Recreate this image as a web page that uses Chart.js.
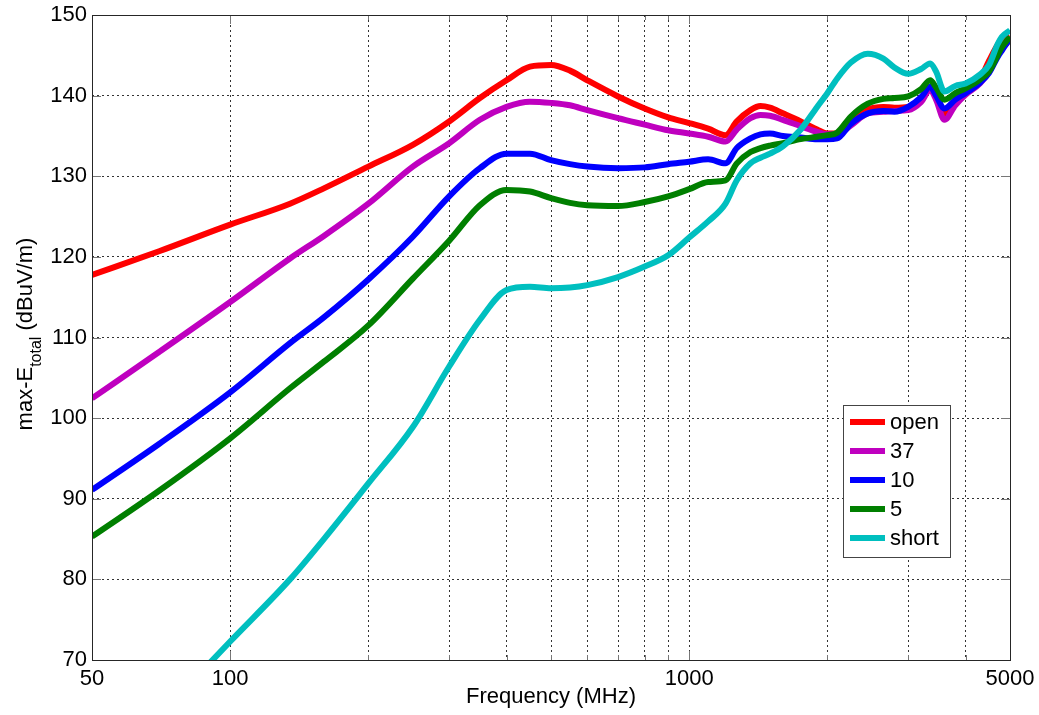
<!DOCTYPE html>
<html>
<head>
<meta charset="utf-8">
<script src="https://cdn.jsdelivr.net/npm/chart.js@4/dist/chart.umd.min.js"></script>
<style>
  html, body { margin: 0; padding: 0; background: #fff; }
  canvas { display: block; }
</style>
</head>
<body>
<canvas id="efield" width="1039" height="715"></canvas>
<script>
// frequencies in MHz, shared by every curve
const freqMHz = [50, 70, 100, 135, 160, 200, 250, 300, 350, 400, 450, 500, 550, 600, 700, 800, 900, 1000, 1100, 1200,
  1270, 1360, 1430, 1500, 1600, 1750, 1900, 2000, 2100, 2250, 2450, 2650, 2800, 3000, 3200, 3350, 3450, 3600,
  3800, 4000, 4300, 4500, 4700, 4800, 5000];

const openVals = [117.75, 120.7, 124.0, 126.6, 128.5, 131.2, 133.9, 136.8, 139.7, 141.9, 143.6, 143.8, 143.1, 141.9, 139.9,
  138.4, 137.3, 136.6, 135.9, 135.1, 136.8, 138.2, 138.7, 138.5, 137.8, 136.8, 135.8, 135.3, 135.3, 136.8, 138.3,
  138.6, 138.5, 138.6, 139.5, 141.0, 140.0, 137.8, 139.4, 140.5, 142.0, 144.3, 146.3, 146.9, 147.3];
const r37Vals = [102.45, 108.2, 114.4, 119.8, 122.6, 126.6, 131.2, 134.1, 137.0, 138.6, 139.25, 139.1, 138.8, 138.2, 137.2,
  136.4, 135.7, 135.3, 134.9, 134.3, 135.8, 137.2, 137.6, 137.5, 137.0, 136.2, 135.5, 135.2, 135.2, 136.3, 137.8,
  138.0, 138.1, 138.2, 139.2, 140.7, 139.5, 137.0, 138.8, 140.1, 141.5, 143.0, 145.0, 145.8, 146.9];
const r10Vals = [91.1, 96.8, 103.2, 109.3, 112.5, 117.2, 122.5, 127.5, 131.0, 132.8, 132.8, 132.0, 131.5, 131.2, 131.0,
  131.1, 131.5, 131.8, 132.1, 131.6, 133.5, 134.7, 135.2, 135.3, 135.0, 134.8, 134.6, 134.6, 134.7, 136.5, 137.8,
  138.1, 138.0, 138.6, 139.8, 141.1, 140.0, 138.4, 139.5, 140.3, 141.6, 142.8, 144.8, 145.6, 147.1];
const r5Vals = [85.3, 91.0, 97.5, 103.7, 107.0, 111.5, 117.3, 122.0, 126.4, 128.3, 128.1, 127.3, 126.7, 126.4, 126.3,
  126.8, 127.5, 128.4, 129.3, 129.5, 131.6, 133.0, 133.5, 133.8, 134.1, 134.6, 134.9, 135.1, 135.4, 137.4, 139.0,
  139.6, 139.7, 139.9, 140.8, 141.9, 141.0, 139.5, 140.3, 140.9, 142.0, 143.0, 145.0, 146.0, 147.3];
const shortVals = [54.0, 63.0, 72.3, 80.0, 85.0, 91.9, 98.9, 106.4, 112.2, 115.9, 116.3, 116.1, 116.2, 116.5, 117.5,
  118.8, 120.2, 122.4, 124.4, 126.6, 129.5, 131.6, 132.3, 132.8, 133.7, 135.8, 138.6, 140.3, 142.1, 144.1, 145.2,
  144.6, 143.5, 142.7, 143.3, 144.0, 143.0, 140.5, 141.2, 141.5, 142.6, 143.8, 146.4, 147.3, 148.1];

const seriesNames = ["open", "37", "10", "5", "short"];
const seriesColors = ["#ff0000", "#bf00bf", "#0000ff", "#007f00", "#00bfbf"];

const xGridFreqs = [50, 100, 200, 300, 400, 500, 600, 700, 800, 900, 1000, 2000, 3000, 4000, 5000];
const xLabelFreqs = [50, 100, 1000, 5000];
const yMin = 70, yMax = 150, yStep = 10;

const FONT = "'Liberation Sans', Arial, sans-serif";
const allVals = [openVals, r37Vals, r10Vals, r5Vals, shortVals];

const datasets = allVals.map((vals, i) => ({
  label: seriesNames[i],
  data: freqMHz.map((f, k) => ({ x: f, y: vals[k] })),
  borderColor: seriesColors[i],
  backgroundColor: seriesColors[i],
  borderWidth: 6,
  pointRadius: 0,
  cubicInterpolationMode: "monotone",
  fill: false,
  clip: 0,
  order: allVals.length - i, // later series drawn on top, like the original
}));

// keep the plot box exactly where the layout padding puts it
function noScalePadding(scale) {
  scale.paddingTop = 0;
  scale.paddingBottom = 0;
  scale.paddingLeft = 0;
  scale.paddingRight = 0;
}

const framePlugin = {
  id: "frame",
  afterDraw(chart) {
    const { ctx, chartArea: a, scales } = chart;
    const x = scales.x, y = scales.y;
    ctx.save();

    // inner ticks on all four sides
    ctx.strokeStyle = "#777";
    ctx.lineWidth = 1;
    ctx.beginPath();
    for (let v = yMin; v <= yMax; v += yStep) {
      const py = Math.round(y.getPixelForValue(v)) + 0.5;
      ctx.moveTo(a.left, py); ctx.lineTo(a.left + 9, py);
      ctx.moveTo(a.right, py); ctx.lineTo(a.right - 9, py);
    }
    xGridFreqs.forEach((f) => {
      const px = Math.round(x.getPixelForValue(f)) + 0.5;
      const len = xLabelFreqs.includes(f) ? 9 : 5;
      ctx.moveTo(px, a.bottom); ctx.lineTo(px, a.bottom - len);
      ctx.moveTo(px, a.top); ctx.lineTo(px, a.top + len);
    });
    ctx.stroke();

    // box
    ctx.strokeStyle = "#262626";
    ctx.strokeRect(Math.round(a.left) + 0.5, Math.round(a.top) + 0.5,
      Math.round(a.width), Math.round(a.height));

    // legend
    const lx = 843, ly = 405, lw = 107, lh = 152;
    ctx.fillStyle = "#fff";
    ctx.fillRect(lx, ly, lw, lh);
    ctx.strokeStyle = "#444";
    ctx.strokeRect(lx + 0.5, ly + 0.5, lw, lh);
    ctx.font = "22px " + FONT;
    ctx.textBaseline = "middle";
    ctx.textAlign = "left";
    seriesNames.forEach((name, i) => {
      const cy = 422 + i * 29;
      ctx.strokeStyle = seriesColors[i];
      ctx.lineWidth = 6;
      ctx.beginPath();
      ctx.moveTo(850, cy); ctx.lineTo(885, cy);
      ctx.stroke();
      ctx.fillStyle = "#000";
      ctx.fillText(name, 890, cy + 1);
    });

    // axis titles
    ctx.fillStyle = "#000";
    ctx.textBaseline = "alphabetic";
    ctx.textAlign = "center";
    ctx.font = "22px " + FONT;
    ctx.fillText("Frequency (MHz)", (a.left + a.right) / 2, 703);

    ctx.textAlign = "left";
    const mainFont = "22px " + FONT, subFont = "16px " + FONT;
    ctx.font = mainFont;
    const w1 = ctx.measureText("max-E").width;
    const w3 = ctx.measureText(" (dBuV/m)").width;
    ctx.font = subFont;
    const w2 = ctx.measureText("total").width;
    const total = w1 + w2 + w3;
    ctx.translate(32, 334 + total / 2);
    ctx.rotate(-Math.PI / 2);
    ctx.font = mainFont;
    ctx.fillText("max-E", 0, 0);
    ctx.font = subFont;
    ctx.fillText("total", w1, 9);
    ctx.font = mainFont;
    ctx.fillText(" (dBuV/m)", w1 + w2, 0);

    ctx.restore();
  },
};

new Chart(document.getElementById("efield"), {
  type: "line",
  data: { datasets },
  options: {
    responsive: false,
    animation: false,
    devicePixelRatio: 1,
    layout: { padding: { left: 0, right: 29, top: 15, bottom: 0 } },
    plugins: { legend: { display: false }, tooltip: { enabled: false } },
    events: [],
    scales: {
      x: {
        type: "logarithmic",
        min: 50,
        max: 5000,
        afterBuildTicks: (scale) => {
          scale.ticks = xGridFreqs.map((v) => ({ value: v }));
        },
        afterFit: (scale) => { scale.height = 55; noScalePadding(scale); },
        ticks: {
          autoSkip: false,
          maxRotation: 0,
          padding: 6,
          color: "#000",
          font: { family: FONT, size: 22 },
          callback: (value) => (xLabelFreqs.includes(value) ? String(value) : ""),
        },
        grid: { color: "#333", lineWidth: 1, drawTicks: false },
        border: { display: false, dash: [2, 3] },
      },
      y: {
        min: yMin,
        max: yMax,
        afterFit: (scale) => { scale.width = 92; noScalePadding(scale); },
        ticks: {
          stepSize: yStep,
          padding: 5,
          color: "#000",
          font: { family: FONT, size: 22 },
        },
        grid: { color: "#333", lineWidth: 1, drawTicks: false },
        border: { display: false, dash: [2, 3] },
      },
    },
  },
  plugins: [framePlugin],
});
</script>
</body>
</html>
